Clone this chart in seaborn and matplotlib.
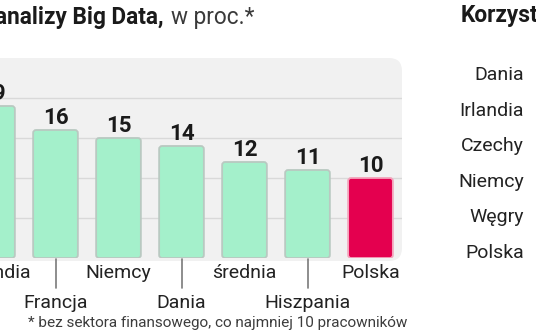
import matplotlib
matplotlib.use("Agg")
import matplotlib.pyplot as plt
from matplotlib.patches import FancyBboxPatch
import seaborn as sns
import pandas as pd

# Share of companies using Big Data analysis, in percent
countries = ["Holandia", "Francja", "Niemcy", "Dania", "średnia", "Hiszpania", "Polska"]
shares = [19, 16, 15, 14, 12, 11, 10]
bar_colors = ["#a4f0cb", "#a4f0cb", "#a4f0cb", "#a4f0cb", "#a4f0cb", "#a4f0cb", "#e4004f"]
edge_colors = ["#b9c9c1", "#b9c9c1", "#b9c9c1", "#b9c9c1", "#b9c9c1", "#b9c9c1", "#f4a3bb"]
y_ticks = [5, 10, 15, 20]

# Countries listed in the neighbouring panel
side_countries = ["Dania", "Irlandia", "Czechy", "Niemcy", "Węgry", "Polska"]

sns.set_style("white")
plt.rcParams["font.family"] = ["Roboto", "DejaVu Sans"]

W, H = 536, 332
fig = plt.figure(figsize=(W / 100, H / 100), dpi=100)
fig.patch.set_facecolor("white")


def fx(px):
    return px / W


def fy(py):
    return 1 - py / H


# plot area in pixels: baseline at y=258, top at y=58, right edge at x=402
left_px, right_px, top_px, bottom_px = -45.3, 402, 58, 258
ax = fig.add_axes([fx(left_px), fy(bottom_px), (right_px - left_px) / W,
                   (bottom_px - top_px) / H])
ax.set_facecolor("none")

# light grey rounded panel behind the bars
panel = FancyBboxPatch((fx(-60), fy(261)), fx(402 + 60), (261 - 58) / H,
                       boxstyle="round,pad=0,rounding_size=%f" % fx(13),
                       mutation_aspect=W / H, transform=fig.transFigure,
                       facecolor="#f1f1f1", edgecolor="none", zorder=-5)
fig.add_artist(panel)

df = pd.DataFrame({"kraj": countries, "udzial": shares})
sns.barplot(data=df, x="kraj", y="udzial", hue="kraj", order=countries,
            hue_order=countries, palette=bar_colors, saturation=1, width=0.71,
            legend=False, ax=ax, zorder=3)

ax.set_xlim(-0.6, 6.5)
ax.set_ylim(0, 25)

# swap plain rectangles for bars with softly rounded corners
px_per_x = (right_px - left_px) / 7.1
px_per_y = (bottom_px - top_px) / 25
r = 3.0 / px_per_x
aspect = (3.0 / px_per_y) / r
for patch, ec in zip(list(ax.patches), edge_colors):
    x0, y0 = patch.get_x(), patch.get_y()
    w, h = patch.get_width(), patch.get_height()
    fc = patch.get_facecolor()
    patch.remove()
    ax.add_patch(FancyBboxPatch((x0, y0), w, h,
                                boxstyle="round,pad=0,rounding_size=%f" % r,
                                mutation_aspect=aspect, facecolor=fc,
                                edgecolor=ec, linewidth=1.3, zorder=3))

# horizontal guide lines
ax.set_yticks(y_ticks)
ax.yaxis.grid(True, color="#d9d9d9", linewidth=1.0, zorder=0)
ax.set_axisbelow(True)
ax.tick_params(left=False, bottom=False, labelleft=False, labelbottom=False)
ax.set_xlabel("")
ax.set_ylabel("")
for s in ax.spines.values():
    s.set_visible(False)

# value labels above bars
for i, v in enumerate(shares):
    ax.annotate(str(v), xy=(i, v), xytext=(0, 6), textcoords="offset pixels",
                ha="center", va="baseline", fontsize=16, fontweight="bold",
                color="#1a1a1a", zorder=5)

# category labels in two staggered rows, lower row with a leader line
for i, name in enumerate(countries):
    if i % 2 == 0:
        ax.annotate(name, xy=(i, 0), xycoords="data", xytext=(0, -20),
                    textcoords="offset pixels", ha="center", va="baseline",
                    fontsize=14, color="#222222", annotation_clip=False)
    else:
        ax.annotate(name, xy=(i, 0), xycoords="data", xytext=(0, -50),
                    textcoords="offset pixels", ha="center", va="baseline",
                    fontsize=14, color="#222222", annotation_clip=False)
        ax.plot([i, i], [-0.1, -3.75], color="#7a7a7a", linewidth=1.2,
                clip_on=False, zorder=2)

# heading
fig.text(fx(-5), fy(24), "analizy Big Data,", fontsize=16.3,
         fontweight="bold", color="#1a1a1a", ha="left", va="baseline")
fig.text(fx(171), fy(24), "w proc.*", fontsize=16.3, color="#3a3a3a",
         ha="left", va="baseline")

# footnote
fig.text(fx(218), fy(327), "* bez sektora finansowego, co najmniej 10 pracowników",
         fontsize=11, color="#3c3c3c", ha="center", va="baseline")

# neighbouring panel: heading and country names
fig.text(fx(461), fy(22), "Korzystanie", fontsize=16.3, fontweight="bold",
         color="#1a1a1a", ha="left", va="baseline")
for k, name in enumerate(side_countries):
    fig.text(fx(524), fy(75 + 35.6 * k), name, fontsize=14, color="#222222",
             ha="right", va="center")

fig.savefig("out.png", dpi=100)
